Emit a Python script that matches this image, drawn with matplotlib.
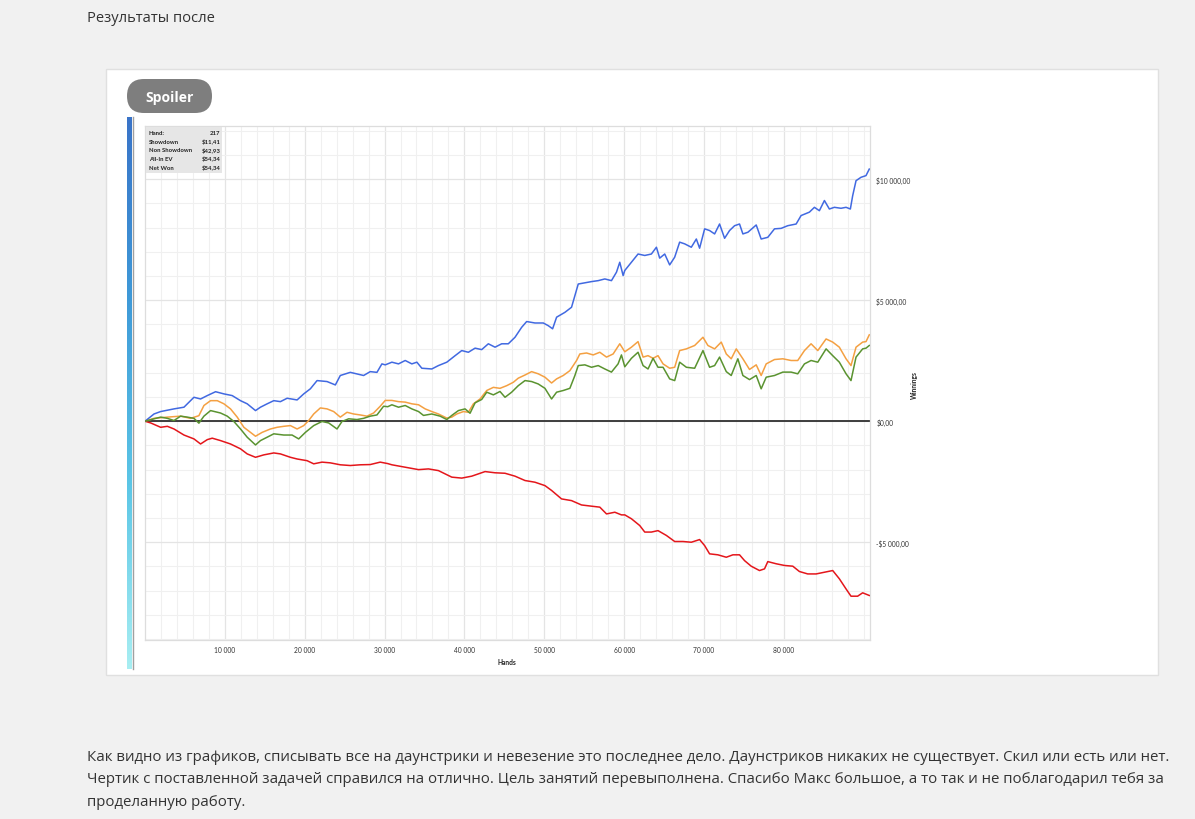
import matplotlib
matplotlib.use("Agg")
import matplotlib.pyplot as plt
import numpy as np
from matplotlib.patches import FancyBboxPatch, Rectangle
from matplotlib.colors import LinearSegmentedColormap
from matplotlib.ticker import FuncFormatter

# ---------------- data ----------------
blue_hands = [0,1130,1960,3630,4880,6130,6960,7800,8840,9880,10920,11960,12800,13840,14460,15300,16130,16960,17800,19050,19880,20710,21550,22800,23840,24460,25710,27380,28210,29050,29670,30090,30920,31750,32590,33420,34050,34670,35920,36750,37800,38840,39670,40500,41340,42170,43000,43840,44670,45500,46340,47170,47800,48840,49880,50500,51050,51550,52590,53420,53840,54260,55090,55920,56760,57590,58420,59050,59460,59880,60090,60920,61750,62590,63420,64050,64460,65090,65710,66340,66960,67590,68420,69050,69460,70090,70710,71340,71960,72590,73210,73840,74460,74880,75510,76550,77170,78000,78840,79670,80500,81550,82170,83210,83840,84460,85090,85710,86340,87170,87800,88340,88630,89050,89670,90300,90710]
blue_won = [0,300,400,510,580,990,920,1060,1220,1130,1060,850,720,440,580,720,850,810,950,880,1130,1340,1680,1640,1500,1890,2020,1890,2050,2020,2370,2330,2440,2370,2510,2370,2440,2190,2160,2300,2440,2710,2920,2850,3020,2960,3200,3060,3200,3200,3470,3880,4120,4060,4060,3950,3820,4300,4500,4710,5190,5670,5720,5770,5810,5880,5810,6160,6570,6020,6230,6570,6910,6850,6910,7190,6740,6910,6460,6780,7400,7330,7190,7530,7150,7950,7880,7740,8150,7560,7880,8080,8150,7740,7810,8110,7530,7600,7950,7970,8080,8150,8500,8640,8840,8700,9120,8770,8840,8800,8840,8770,9320,9940,10080,10150,10420]

orange_hands = [0,1130,2800,4460,5710,6750,7380,8210,9050,9880,10710,11550,12380,13210,13840,14670,15710,16550,17380,18210,19050,19880,20500,21130,21960,22800,23630,24460,25300,26130,26960,27800,28630,29460,30090,30920,31750,32590,33420,34260,35090,35920,36750,37800,38420,39050,39880,40500,41130,41960,42800,43630,44460,45300,46130,46750,47590,48420,49250,50090,50920,51550,52380,53210,54050,54460,55300,56130,56960,57800,58630,59460,60090,60920,61750,62380,63000,63630,64250,64880,65710,66340,66960,67800,68840,69880,70500,71340,72170,72800,73420,74050,74880,75710,76550,77170,77800,78840,79880,80920,81750,82590,83420,84260,85300,86130,86960,87800,88420,89050,89880,90300,90710]
orange_won = [0,120,170,210,120,230,650,850,850,720,510,170,-250,-460,-620,-460,-320,-250,-210,-180,-320,-180,30,300,550,510,400,170,370,300,260,210,340,620,860,860,810,790,720,680,510,400,300,130,170,300,400,370,720,920,1270,1400,1360,1470,1610,1780,1910,2050,1960,1820,1580,1750,1890,2090,2510,2780,2820,2740,2850,2650,2780,3200,2870,3060,3290,2650,2710,2600,2710,2370,2190,2230,2920,2990,3130,3470,3130,2990,3270,2780,2580,2990,2580,2140,2330,1890,2370,2550,2580,2510,2510,2920,3200,2920,3400,3270,3060,2580,2300,3060,3270,3290,3570]

green_hands = [0,1130,1960,2800,3630,4460,5300,6130,6750,7380,8210,9460,10300,11130,11960,12800,13840,14460,15300,16130,17380,18420,19250,20090,21130,22170,23000,24050,24670,25510,26550,27380,28210,29050,29880,30400,30920,31750,32590,33420,34260,34880,35920,36960,37800,38420,39250,40090,40710,41340,42170,42800,43630,44460,45090,45920,46750,47590,48420,49250,50090,50920,51550,52380,53210,53840,54260,55090,55920,56760,57590,58420,59250,59670,60090,60920,61750,62380,63000,63630,64250,64880,65710,66340,66960,67800,68840,69880,70710,71340,71960,72800,73420,74250,74880,75710,76550,77170,77800,78840,79880,80920,81750,82590,83420,84260,85300,86130,86960,87800,88420,89050,89880,90300,90710]
green_won = [0,100,170,120,30,210,170,120,-80,210,440,340,210,-10,-320,-660,-980,-800,-660,-520,-570,-570,-730,-460,-180,-10,-70,-320,-10,100,70,120,210,260,620,600,680,580,650,510,400,240,300,210,70,240,440,510,330,760,900,1200,1090,1230,990,1200,1470,1680,1640,1540,1360,920,1200,1270,1360,1890,2300,2330,2230,2300,2160,2030,2370,2740,2250,2600,2850,2300,2160,2600,2230,2230,1750,1680,2440,2230,2190,2920,2230,2300,2650,2050,1890,2580,1890,1720,1890,1340,1820,1890,2030,2030,1960,2370,2510,2440,2990,2710,2440,1960,1680,2650,2990,3020,3130]

red_hands = [0,710,1960,2800,3630,4880,6130,6960,7800,8420,9460,10710,11960,12800,13840,14880,16130,16960,18210,19050,20300,21130,22170,23210,24460,25710,26960,28210,29460,30400,30920,32590,34260,35500,36750,38420,39670,40920,42590,43840,45090,46340,47590,48840,50090,50920,52170,53420,54670,55920,56960,57800,58840,59670,60090,60920,61960,62590,63420,64250,65300,66340,67380,68420,69460,70090,70710,71750,72800,73630,74460,75090,75920,76960,77590,78000,79050,80090,81130,81960,83000,84050,85090,86130,86960,87800,88420,89250,89880,90710]
red_won = [0,-70,-250,-210,-320,-570,-730,-940,-760,-700,-800,-940,-1140,-1350,-1490,-1390,-1310,-1350,-1490,-1560,-1630,-1760,-1690,-1720,-1800,-1830,-1800,-1790,-1690,-1750,-1800,-1900,-2000,-1970,-2040,-2310,-2350,-2270,-2080,-2130,-2150,-2270,-2450,-2520,-2660,-2860,-3210,-3280,-3460,-3510,-3550,-3830,-3760,-3870,-3870,-4030,-4310,-4580,-4580,-4520,-4720,-4970,-4970,-5000,-4890,-5140,-5480,-5520,-5620,-5520,-5520,-5760,-5990,-6170,-6100,-5800,-5890,-5960,-5990,-6210,-6310,-6310,-6240,-6170,-6510,-6930,-7230,-7230,-7090,-7200]

x_ticks = [10000, 20000, 30000, 40000, 50000, 60000, 70000, 80000]
y_ticks = [-5000, 0, 5000, 10000]

stat_labels = ["Hand:", "Showdown", "Non Showdown", "All-In EV", "Net Won"]
stat_values = ["217", "$11,41", "$42,93", "$54,34", "$54,34"]

title_text = "Результаты после"
body_lines = [
    "Как видно из графиков, списывать все на даунстрики и невезение это последнее дело. Даунстриков никаких не существует. Скил или есть или нет.",
    "Чертик с поставленной задачей справился на отлично. Цель занятий перевыполнена. Спасибо Макс большое, а то так и не поблагодарил тебя за",
    "проделанную работу.",
]

# ---------------- figure ----------------
W, H = 1195, 820
fig = plt.figure(figsize=(W / 100, H / 100), dpi=100)
fig.patch.set_facecolor("#f1f1f1")

def fx(px):
    return px / W

def fy(py):
    return 1 - py / H

# background layer in pixel coordinates
bg = fig.add_axes([0, 0, 1, 1], zorder=-5)
bg.axis("off")
bg.add_patch(Rectangle((106.5, 69.5), 1052, 606, facecolor="white", edgecolor="#e0e0e0",
                       linewidth=1.0, zorder=1))
bg.add_patch(FancyBboxPatch((127, 80), 85, 34,
                            boxstyle="round,pad=0,rounding_size=17",
                            facecolor="#7e7e7e", edgecolor="none", zorder=2))
bg.text(169.5, 98, "Spoiler", color="white", fontsize=10, fontweight="bold",
        family="Open Sans", ha="center", va="center", zorder=3)
grad = np.linspace(0, 1, 256).reshape(-1, 1)
cmap_s = LinearSegmentedColormap.from_list("s", ["#3a74c8", "#3f9ad8", "#5cc6e6", "#a8eef2"])
bg.imshow(grad, aspect="auto", cmap=cmap_s, extent=(127, 131.5, 670, 118), zorder=3)
bg.plot([132.8, 132.8], [118, 670], color="#a0a0a0", linewidth=1.0, zorder=3)
bg.set_xlim(0, W)
bg.set_ylim(H, 0)

# main chart
ax = fig.add_axes([fx(145), fy(641), fx(870) - fx(145), fy(127) - fy(641)], zorder=1)
ax.set_xlim(0, 90800)
ax.set_ylim(-9040, 12200)

ax.set_xticks(x_ticks)
ax.set_xticks(np.arange(2000, 90800, 2000), minor=True)
ax.set_yticks(y_ticks)
ax.set_yticks(np.arange(-9000, 12200, 1000), minor=True)
ax.grid(True, which="minor", color="#f0f0f0", linewidth=0.8)
ax.grid(True, which="major", color="#e4e4e4", linewidth=0.9)
ax.set_axisbelow(True)
for s in ax.spines.values():
    s.set_color("#dddddd")
    s.set_linewidth(0.9)

def money(v, pos):
    s = f"{abs(v):,.2f}".replace(",", " ").replace(".", ",")
    return ("-$" if v < 0 else "$") + s

ax.yaxis.tick_right()
ax.yaxis.set_major_formatter(FuncFormatter(money))
ax.xaxis.set_major_formatter(FuncFormatter(lambda v, p: f"{int(v):,}".replace(",", " ")))
ax.tick_params(which="both", length=0)
ax.tick_params(axis="y", pad=4.5, labelsize=4.8, labelcolor="#333333")
ax.tick_params(axis="x", pad=4.0, labelsize=4.8, labelcolor="#333333")
for lab in ax.get_xticklabels() + ax.get_yticklabels():
    lab.set_family("Lato")

ax.axhline(0, color="#303030", linewidth=1.3, zorder=2)
lw = 1.1
ax.plot(orange_hands, orange_won, color="#f4a042", linewidth=lw, zorder=3)
ax.plot(green_hands, green_won, color="#5a9330", linewidth=lw, zorder=4)
ax.plot(blue_hands, blue_won, color="#4169e1", linewidth=lw, zorder=3)
ax.plot(red_hands, red_won, color="#e4161b", linewidth=lw, zorder=3)

# foreground overlay (stats table, axis titles, page text)
fg = fig.add_axes([0, 0, 1, 1], zorder=5)
fg.set_xlim(0, W)
fg.set_ylim(H, 0)
fg.axis("off")
fg.patch.set_alpha(0)
fg.add_patch(Rectangle((146.5, 128), 76, 45.5, facecolor="#e6e6e6", edgecolor="none"))
row_y = [133.3, 142.3, 151.0, 159.7, 168.3]
for lbl, val, yy in zip(stat_labels, stat_values, row_y):
    fg.text(149, yy, lbl, fontsize=4.3, fontweight="bold", family="Lato",
            ha="left", va="center", color="#222222")
    fg.text(220.5, yy, val, fontsize=4.3, fontweight="bold", family="Lato",
            ha="right", va="center", color="#222222")
fg.text(507, 663, "Hands", fontsize=4.8, fontweight="bold", family="Lato",
        ha="center", va="center", color="#222222")
fg.text(914, 385, "Winnings", fontsize=4.8, fontweight="bold", family="Lato",
        ha="center", va="center", rotation=90, color="#222222")

fg.text(87, 19, title_text, fontsize=10.6, family="Open Sans",
        ha="left", va="center", color="#333333")
for line, yy in zip(body_lines, [757.5, 780, 802.5]):
    fg.text(87, yy, line, fontsize=10.8, family="Open Sans",
            ha="left", va="center", color="#333333")

fig.savefig("out.png", dpi=100, facecolor=fig.get_facecolor())
